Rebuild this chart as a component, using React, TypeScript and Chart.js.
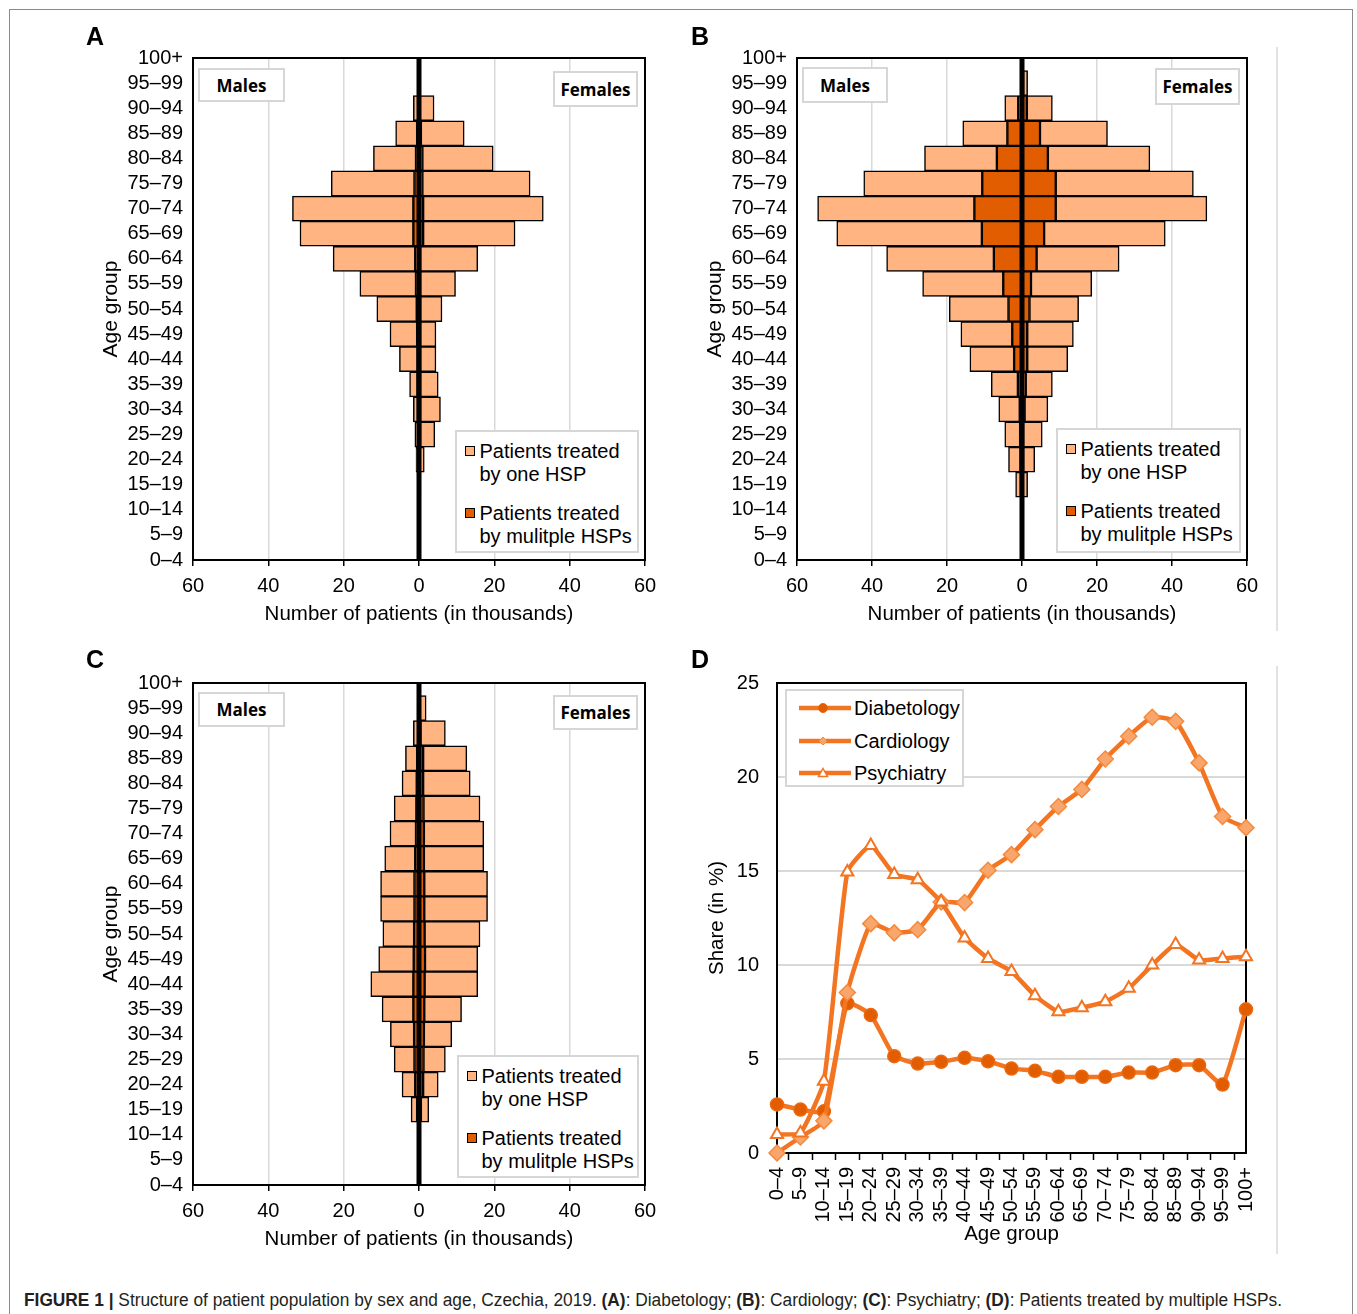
import React, { useEffect, useRef } from 'react';
import { Chart, registerables } from 'chart.js';

Chart.register(...registerables);

// ---------- DATA ----------
const ageGroups = ['0–4', '5–9', '10–14', '15–19', '20–24', '25–29', '30–34', '35–39', '40–44', '45–49', '50–54', '55–59', '60–64', '65–69', '70–74', '75–79', '80–84', '85–89', '90–94', '95–99', '100+'];

// Panel A: Diabetology (thousands of patients)
const diaMaleOne = [0.05, 0.05, 0.1, 0.2, 0.6, 0.8, 1.2, 2.1, 4.8, 7.2, 10.6, 14.9, 21.8, 30.1, 32.1, 22.1, 11.3, 5.7, 1.3, 0.15, 0];
const diaMaleMulti = [0.05, 0.05, 0.1, 0.1, 0.2, 0.3, 0.3, 0.4, 0.4, 0.5, 0.6, 0.8, 1.0, 1.5, 1.5, 1.2, 0.8, 0.5, 0.2, 0.05, 0];
const diaFemaleOne = [0.05, 0.05, 0.1, 0.4, 1.2, 3.9, 5.4, 4.8, 4.2, 4.2, 5.8, 9.4, 15.3, 24.4, 31.9, 28.6, 18.8, 11.5, 3.8, 0.35, 0];
const diaFemaleMulti = [0.05, 0.05, 0.1, 0.1, 0.2, 0.3, 0.3, 0.3, 0.3, 0.3, 0.3, 0.3, 0.3, 1.1, 1.1, 0.9, 0.9, 0.5, 0.2, 0.05, 0];

// Panel B: Cardiology
const carMaleOne = [0.05, 0.05, 0.1, 1.4, 3.2, 4.1, 5.6, 7.1, 11.8, 13.7, 15.8, 21.5, 28.6, 38.7, 41.8, 31.6, 19.3, 11.9, 3.6, 0.2, 0];
const carMaleMulti = [0.05, 0.05, 0.1, 0.3, 0.4, 0.5, 0.6, 1.1, 2.1, 2.6, 3.6, 5.0, 7.5, 10.7, 12.7, 10.6, 6.7, 3.9, 1.0, 0.1, 0];
const carFemaleOne = [0.05, 0.05, 0.1, 1.3, 3.1, 5.1, 6.2, 7.1, 10.8, 12.3, 13.1, 16.2, 22.0, 32.3, 40.3, 36.7, 27.2, 18.0, 6.8, 1.2, 0.1];
const carFemaleMulti = [0.05, 0.05, 0.1, 0.2, 0.3, 0.3, 0.7, 1.0, 1.4, 1.4, 2.0, 2.4, 3.9, 5.9, 9.0, 9.0, 6.9, 4.8, 1.3, 0.3, 0];

// Panel C: Psychiatry
const psyMaleOne = [0.05, 0.05, 0.1, 1.6, 3.5, 5.4, 6.3, 8.3, 11.3, 9.3, 8.3, 9.0, 9.0, 8.1, 6.9, 5.9, 3.9, 3.1, 1.3, 0.15, 0];
const psyMaleMulti = [0.05, 0.05, 0.1, 0.5, 1.0, 1.2, 1.3, 1.5, 1.5, 1.4, 1.3, 1.2, 1.2, 1.0, 0.8, 0.7, 0.6, 0.5, 0.2, 0.05, 0];
const psyFemaleOne = [0.05, 0.05, 0.1, 2.1, 4.0, 5.8, 7.4, 9.9, 14.1, 14.0, 14.7, 16.8, 16.8, 15.9, 15.9, 15.0, 12.5, 11.6, 6.6, 1.7, 0];
const psyFemaleMulti = [0.05, 0.05, 0.1, 0.5, 1.1, 1.2, 1.3, 1.4, 1.5, 1.6, 1.5, 1.4, 1.4, 1.3, 1.3, 1.2, 1.1, 1.1, 0.4, 0.2, 0];

// Panel D: share of patients treated by multiple HSPs (%)
const shareDiabetology = [2.58, 2.31, 2.22, 7.96, 7.34, 5.15, 4.76, 4.85, 5.06, 4.88, 4.49, 4.37, 4.05, 4.05, 4.05, 4.28, 4.28, 4.67, 4.67, 3.64, 7.64];
const shareCardiology = [0.0, 0.85, 1.71, 8.54, 12.2, 11.71, 11.88, 13.35, 13.32, 15.04, 15.87, 17.2, 18.43, 19.34, 20.96, 22.17, 23.18, 22.96, 20.75, 17.9, 17.3];
const sharePsychiatry = [0.98, 1.07, 3.82, 14.95, 16.36, 14.82, 14.54, 13.35, 11.44, 10.35, 9.66, 8.37, 7.51, 7.73, 8.05, 8.76, 10.0, 11.09, 10.26, 10.35, 10.44];

// ---------- STYLE ----------
const FONT = '"Liberation Sans", Arial, sans-serif';
const LIGHT = '#FFB482';
const DARK = '#E25C00';
const ORANGE = '#F37421';
const GRID = '#d9d9d9';

const framePlugin = {
  id: 'frame',
  beforeDatasetsDraw(chart: any, _a: any, opts: any) {
    if (!opts || opts.over) return;
    drawFrame(chart, opts);
  },
  afterDatasetsDraw(chart: any, _a: any, opts: any) {
    if (!opts || !opts.over) return;
    drawFrame(chart, opts);
  },
};

function drawFrame(chart: any, opts: any) {
  const { ctx, chartArea: a } = chart;
  ctx.save();
  if (opts.zero) {
    const x = chart.scales.x.getPixelForValue(0);
    ctx.strokeStyle = '#000';
    ctx.lineWidth = 5;
    ctx.beginPath();
    ctx.moveTo(x, a.top);
    ctx.lineTo(x, a.bottom);
    ctx.stroke();
  }
  ctx.strokeStyle = '#000';
  ctx.lineWidth = 2;
  ctx.strokeRect(a.left, a.top, a.width, a.height);
  ctx.restore();
}

function noPad(s: any) {
  s.paddingLeft = 0;
  s.paddingRight = 0;
  s.paddingTop = 0;
  s.paddingBottom = 0;
}

type Box = { left: number; top: number; width: number; height: number };

function Pyramid(props: {
  box: Box;
  chartLeft: number; chartRight: number; chartTop: number; chartBottom: number;
  maleOne: number[]; maleMulti: number[]; femaleOne: number[]; femaleMulti: number[];
}) {
  const ref = useRef<HTMLCanvasElement>(null);
  const { box } = props;
  useEffect(() => {
    const yW = props.chartLeft - box.left;
    const xH = box.top + box.height - props.chartBottom;
    const padTop = props.chartTop - box.top;
    const padRight = box.left + box.width - props.chartRight;
    const common = {
      borderColor: '#000', borderWidth: 1.5, borderSkipped: false,
      barPercentage: 1, categoryPercentage: 1, stack: 'p',
    };
    const chart = new Chart(ref.current as HTMLCanvasElement, {
      type: 'bar',
      data: {
        labels: ageGroups,
        datasets: [
          { ...common, label: 'Males, multiple HSPs', data: props.maleMulti.map((v) => -v), backgroundColor: DARK },
          { ...common, label: 'Females, multiple HSPs', data: props.femaleMulti, backgroundColor: DARK },
          { ...common, label: 'Males, one HSP', data: props.maleOne.map((v) => -v), backgroundColor: LIGHT },
          { ...common, label: 'Females, one HSP', data: props.femaleOne, backgroundColor: LIGHT },
        ] as any,
      },
      plugins: [framePlugin as any],
      options: {
        animation: false,
        responsive: false,
        events: [],
        indexAxis: 'y',
        layout: { padding: { top: padTop, right: padRight, left: 0, bottom: 0 } },
        plugins: {
          legend: { display: false },
          tooltip: { enabled: false },
          frame: { zero: true, over: true },
        } as any,
        scales: {
          x: {
            type: 'linear', stacked: true, min: -60, max: 60,
            ticks: { stepSize: 20, callback: (v: any) => String(Math.abs(Number(v))), color: '#000', font: { family: FONT, size: 20 }, padding: 8 },
            grid: {
              color: (c: any) => (c.tick && c.tick.value === 0 ? 'rgba(0,0,0,0)' : GRID),
              lineWidth: 1.5, tickColor: '#000', tickLength: 6, tickWidth: 1.5,
            },
            border: { display: false },
            title: { display: true, text: 'Number of patients (in thousands)', color: '#000', font: { family: FONT, size: 20.5 }, padding: { top: 0, bottom: 13 } },
            afterFit: (s: any) => { s.height = xH; noPad(s); },
          },
          y: {
            type: 'category', stacked: true, reverse: true, offset: false,
            ticks: { autoSkip: false, color: '#000', font: { family: FONT, size: 20 }, padding: 10 },
            grid: { display: false, drawTicks: false },
            border: { display: false },
            title: { display: true, text: 'Age group', color: '#000', font: { family: FONT, size: 21 }, padding: { top: 3, bottom: 0 } },
            afterFit: (s: any) => { s.width = yW; noPad(s); },
          },
        } as any,
      } as any,
    });
    return () => chart.destroy();
  }, []);
  return (
    <canvas ref={ref} width={box.width} height={box.height}
      style={{ position: 'absolute', left: box.left, top: box.top, width: box.width, height: box.height }} />
  );
}

function ShareChart(props: { box: Box; chartLeft: number; chartRight: number; chartTop: number; chartBottom: number }) {
  const ref = useRef<HTMLCanvasElement>(null);
  const { box } = props;
  useEffect(() => {
    const yW = props.chartLeft - box.left;
    const xH = box.top + box.height - props.chartBottom;
    const padTop = props.chartTop - box.top;
    const padRight = box.left + box.width - props.chartRight;
    const line = { borderColor: ORANGE, borderWidth: 4.5, tension: 0.15, clip: false, pointBorderColor: ORANGE };
    const chart = new Chart(ref.current as HTMLCanvasElement, {
      type: 'line',
      data: {
        labels: ageGroups,
        datasets: [
          { ...line, label: 'Psychiatry', data: sharePsychiatry, pointStyle: 'triangle', pointRadius: 7, pointBackgroundColor: '#ffffff', pointBorderWidth: 2 },
          { ...line, label: 'Cardiology', data: shareCardiology, pointStyle: 'rectRot', pointRadius: 8, pointBackgroundColor: '#F9A66C', pointBorderColor: '#F58A3C', pointBorderWidth: 1.5 },
          { ...line, label: 'Diabetology', data: shareDiabetology, pointStyle: 'circle', pointRadius: 6.5, pointBackgroundColor: DARK, pointBorderColor: '#EB6A10', pointBorderWidth: 1.5 },
        ] as any,
      },
      plugins: [framePlugin as any],
      options: {
        animation: false,
        responsive: false,
        events: [],
        layout: { padding: { top: padTop, right: padRight, left: 0, bottom: 0 } },
        plugins: {
          legend: { display: false },
          tooltip: { enabled: false },
          frame: { zero: false, over: false },
        } as any,
        scales: {
          x: {
            type: 'category', offset: false,
            ticks: { autoSkip: false, minRotation: 90, maxRotation: 90, color: '#000', font: { family: FONT, size: 20 }, padding: 7 },
            grid: { display: true, drawOnChartArea: false, offset: true, tickColor: '#000', tickLength: 7, tickWidth: 1.5 },
            border: { display: false },
            title: { display: true, text: 'Age group', color: '#000', font: { family: FONT, size: 20.5 }, padding: { top: 0, bottom: 18 } },
            afterFit: (s: any) => { s.height = xH; noPad(s); },
          },
          y: {
            type: 'linear', min: 0, max: 25,
            ticks: { stepSize: 5, color: '#000', font: { family: FONT, size: 20 }, padding: 18 },
            grid: { color: GRID, lineWidth: 2, drawTicks: false },
            border: { display: false },
            title: { display: true, text: 'Share (in %)', color: '#000', font: { family: FONT, size: 20.5 }, padding: { top: 5, bottom: 0 } },
            afterFit: (s: any) => { s.width = yW; noPad(s); },
          },
        } as any,
      } as any,
    });
    return () => chart.destroy();
  }, []);
  return (
    <canvas ref={ref} width={box.width} height={box.height}
      style={{ position: 'absolute', left: box.left, top: box.top, width: box.width, height: box.height }} />
  );
}

function SexLabel(props: { text: string; left: number; top: number; right: number; bottom: number }) {
  return (
    <div style={{
      position: 'absolute', left: props.left, top: props.top, width: props.right - props.left, height: props.bottom - props.top,
      boxSizing: 'border-box', border: '2px solid #d6d6d6', background: '#fff',
      display: 'flex', alignItems: 'center', justifyContent: 'center',
      fontFamily: '"Open Sans", sans-serif', fontWeight: 700, fontSize: 17, color: '#000',
    }}>{props.text}</div>
  );
}

function BarLegend(props: { left: number; top: number; right: number; bottom: number }) {
  const item = (color: string, l1: string, l2: string, top: number) => (
    <div style={{ position: 'absolute', left: 0, top, width: '100%' }}>
      <div style={{ position: 'absolute', left: 7.5, top: 6, width: 10, height: 10, boxSizing: 'border-box', border: '1.5px solid #000', background: color }} />
      <div style={{ position: 'absolute', left: 22.5, top: 0, fontFamily: FONT, fontSize: 20, lineHeight: '23px', color: '#000', whiteSpace: 'nowrap' }}>
        {l1}<br />{l2}
      </div>
    </div>
  );
  return (
    <div style={{
      position: 'absolute', left: props.left, top: props.top, width: props.right - props.left, height: props.bottom - props.top,
      boxSizing: 'border-box', border: '2px solid #d6d6d6', background: '#fff',
    }}>
      {item(LIGHT, 'Patients treated', 'by one HSP', 8)}
      {item(DARK, 'Patients treated', 'by mulitple HSPs', 70)}
    </div>
  );
}

function LineLegend(props: { left: number; top: number; right: number; bottom: number }) {
  const marker = (kind: string) => {
    if (kind === 'circle') return <circle cx={25} cy={7} r={4.5} fill={DARK} stroke="#EB6A10" strokeWidth={1} />;
    if (kind === 'diamond') return <polygon points="25,3 29,7 25,11 21,7" fill="#F9A66C" stroke="#F58A3C" strokeWidth={1} />;
    return <polygon points="25,2.5 29.5,10.5 20.5,10.5" fill="#fff" stroke={ORANGE} strokeWidth={1.5} />;
  };
  const item = (label: string, kind: string, cy: number) => (
    <div style={{ position: 'absolute', left: 0, top: cy - 12, height: 24, width: '100%' }}>
      <svg width={54} height={14} style={{ position: 'absolute', left: 10.5, top: 5 }}>
        <line x1={1} y1={7} x2={53} y2={7} stroke={ORANGE} strokeWidth={4.5} />
        {marker(kind)}
      </svg>
      <div style={{ position: 'absolute', left: 67, top: 0, fontFamily: FONT, fontSize: 20, lineHeight: '24px', color: '#000', whiteSpace: 'nowrap' }}>{label}</div>
    </div>
  );
  return (
    <div style={{
      position: 'absolute', left: props.left, top: props.top, width: props.right - props.left, height: props.bottom - props.top,
      boxSizing: 'border-box', border: '2px solid #d6d6d6', background: '#fff',
    }}>
      {item('Diabetology', 'circle', 17)}
      {item('Cardiology', 'diamond', 50)}
      {item('Psychiatry', 'triangle', 82)}
    </div>
  );
}

function PanelLetter(props: { text: string; x: number; y: number }) {
  return (
    <div style={{
      position: 'absolute', left: props.x - 15, top: props.y - 15, width: 30, height: 30,
      display: 'flex', alignItems: 'center', justifyContent: 'center',
      fontFamily: FONT, fontWeight: 700, fontSize: 25, color: '#000',
    }}>{props.text}</div>
  );
}

export default function App() {
  return (
    <div style={{ position: 'absolute', left: 0, top: 0, width: 1357, height: 1314, background: '#fff', overflow: 'hidden' }}>
      {/* outer frame */}
      <div style={{ position: 'absolute', left: 9, top: 9, width: 1344, height: 1320, boxSizing: 'border-box', border: '1.5px solid #8a8a8a' }} />
      {/* right-side separators */}
      <div style={{ position: 'absolute', left: 1276, top: 47, width: 2, height: 584, background: '#e2e2e2' }} />
      <div style={{ position: 'absolute', left: 1276, top: 666, width: 2, height: 588, background: '#e2e2e2' }} />

      <Pyramid box={{ left: 96, top: 40, width: 560, height: 600 }} chartLeft={193} chartRight={645} chartTop={58} chartBottom={560}
        maleOne={diaMaleOne} maleMulti={diaMaleMulti} femaleOne={diaFemaleOne} femaleMulti={diaFemaleMulti} />
      <Pyramid box={{ left: 700, top: 40, width: 560, height: 600 }} chartLeft={797} chartRight={1247} chartTop={58} chartBottom={560}
        maleOne={carMaleOne} maleMulti={carMaleMulti} femaleOne={carFemaleOne} femaleMulti={carFemaleMulti} />
      <Pyramid box={{ left: 96, top: 665, width: 560, height: 600 }} chartLeft={193} chartRight={645} chartTop={683} chartBottom={1185}
        maleOne={psyMaleOne} maleMulti={psyMaleMulti} femaleOne={psyFemaleOne} femaleMulti={psyFemaleMulti} />
      <ShareChart box={{ left: 700, top: 665, width: 575, height: 600 }} chartLeft={777} chartRight={1246} chartTop={683} chartBottom={1153} />

      <SexLabel text="Males" left={198} top={68} right={285} bottom={102} />
      <SexLabel text="Females" left={553} top={71} right={638} bottom={107} />
      <SexLabel text="Males" left={802} top={67} right={888} bottom={103} />
      <SexLabel text="Females" left={1155} top={68} right={1240} bottom={105} />
      <SexLabel text="Males" left={198} top={692} right={285} bottom={727} />
      <SexLabel text="Females" left={553} top={695} right={638} bottom={730} />

      <BarLegend left={455} top={430} right={639} bottom={553} />
      <BarLegend left={1056} top={428} right={1241} bottom={553} />
      <BarLegend left={457} top={1055} right={639} bottom={1178} />
      <LineLegend left={785} top={689} right={964} bottom={787} />

      <PanelLetter text="A" x={95} y={36} />
      <PanelLetter text="B" x={700} y={36} />
      <PanelLetter text="C" x={95} y={659} />
      <PanelLetter text="D" x={700} y={659} />

      <div style={{
        position: 'absolute', left: 24, top: 1288, whiteSpace: 'nowrap',
        fontFamily: '"Liberation Sans Narrow", "Liberation Sans", Arial, sans-serif',
        fontSize: 18, lineHeight: '24px', color: '#231f20',
        transform: 'scaleX(0.962)', transformOrigin: 'left center',
      }}>
        <b>FIGURE 1 |</b> Structure of patient population by sex and age, Czechia, 2019. <b>(A)</b>: Diabetology; <b>(B)</b>: Cardiology; <b>(C)</b>: Psychiatry; <b>(D)</b>: Patients treated by multiple HSPs.
      </div>
    </div>
  );
}
